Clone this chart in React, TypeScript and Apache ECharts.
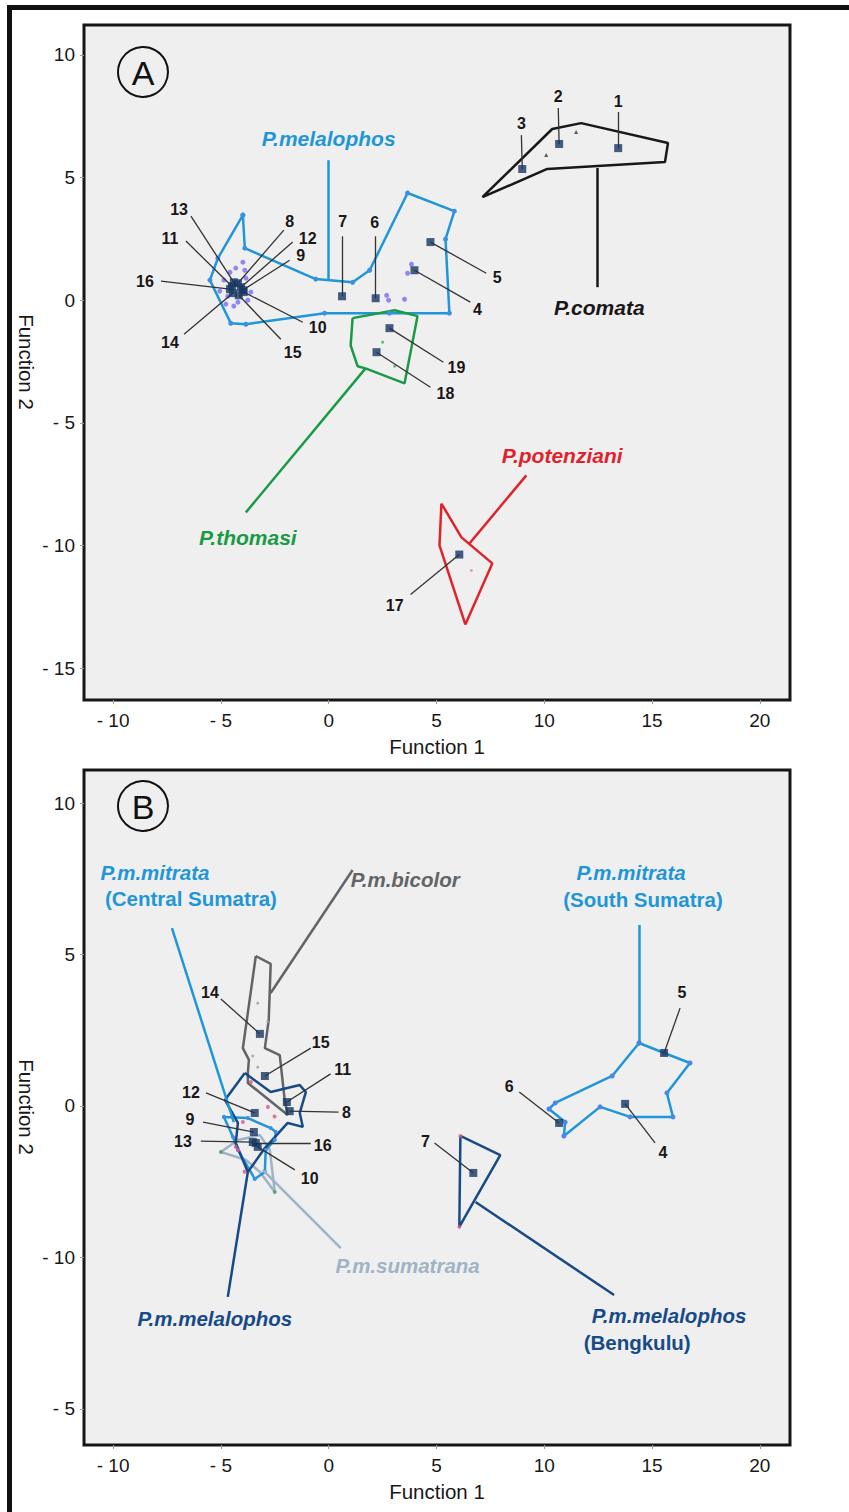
import React, { useEffect, useRef } from "react";
import * as echarts from "echarts";

const FONT = "'Liberation Sans', Arial, Helvetica, sans-serif";
const TICK_FONT = "'Liberation Sans Narrow', 'Liberation Sans', Arial, sans-serif";

// ---------- Panel A ----------
const A_X_RANGE = [-11.35, 21.4];
const A_Y_RANGE = [-16.3, 11.22];

const A_MELALOPHOS_POLY = [[-3.98, 3.47], [-3.89, 2.12], [-0.6, 0.86], [1.11, 0.73], [1.9, 1.22], [3.66, 4.37], [5.83, 3.63], [5.42, 2.49], [5.6, -0.53], [2.82, -0.53], [-0.19, -0.53], [-3.84, -0.98], [-4.54, -0.94], [-5.51, 0.82], [-5.14, 1.71]];
const A_COMATA_POLY = [[7.13, 4.2], [10.37, 6.98], [11.71, 7.22], [15.74, 6.41], [15.6, 5.63], [10.14, 5.35]];
const A_THOMASI_POLY = [[1.11, -0.73], [3.06, -0.41], [4.12, -0.65], [3.52, -3.39], [1.71, -2.78], [1.34, -2.69], [1.02, -1.84]];
const A_POTENZIANI_POLY = [[5.23, -8.29], [6.16, -9.67], [7.59, -10.73], [6.34, -13.22], [5.14, -10.0]];

const A_IDS = ["1", "2", "3", "4", "5", "6", "7", "8", "9", "10", "11", "12", "13", "14", "15", "16", "17", "18", "19"];
const A_CENTROID_X = [13.43, 10.69, 8.98, 3.98, 4.72, 2.18, 0.62, -4.21, -3.98, -3.94, -4.49, -4.07, -4.4, -4.44, -4.17, -4.58, 6.06, 2.22, 2.82];
const A_CENTROID_Y = [6.2, 6.37, 5.35, 1.22, 2.37, 0.08, 0.16, 0.69, 0.41, 0.33, 0.57, 0.53, 0.73, 0.29, 0.2, 0.45, -10.37, -2.12, -1.14];
const A_LABEL_X = [13.43, 10.65, 8.94, 6.9, 7.82, 2.13, 0.65, -1.81, -1.3, -0.51, -7.36, -0.97, -6.94, -7.36, -1.67, -8.52, 3.06, 5.42, 5.93];
const A_LABEL_Y = [8.12, 8.29, 7.22, -0.37, 0.94, 3.18, 3.22, 3.22, 1.84, -1.1, 2.53, 2.53, 3.71, -1.71, -2.12, 0.78, -12.45, -3.8, -2.73];
const A_LEADER_X = [13.43, 10.65, 8.94, 6.57, 7.31, 2.18, 0.62, -2.08, -1.81, -1.2, -6.62, -1.67, -6.39, -6.71, -2.22, -7.78, 3.8, 4.72, 5.32];
const A_LEADER_Y = [7.67, 7.84, 6.73, -0.08, 1.1, 2.61, 2.61, 2.86, 1.63, -0.9, 2.41, 2.37, 3.43, -1.39, -1.59, 0.78, -12.0, -3.55, -2.53];

const A_PURPLE_DOTS = [[-4.58, 1.14], [-3.89, 1.22], [-3.75, 0.0], [-4.77, -0.16], [-4.21, -0.08], [-3.98, 1.55], [-5.05, 0.37], [-3.61, 0.33], [-4.86, 0.82], [-3.84, 0.9], [-4.4, -0.24], [-4.31, 1.31], [-4.68, 0.16], [2.69, 0.2], [2.78, 0.0], [3.52, 0.04], [3.84, 1.47], [3.66, 1.1]];
const A_GREEN_DOTS = [[2.5, -1.71], [3.06, -2.69]];
const A_PINK_DOTS = [[6.62, -11.02]];
const A_BLACK_TRIANGLES = [[11.48, 6.86], [10.09, 5.92]];

const A_SPECIES_TEXT = ["P.melalophos", "P.comata", "P.thomasi", "P.potenziani"];
const A_SPECIES_POS = [[0, 6.61], [12.55, -0.29], [-3.75, -9.67], [10.83, -6.33]];
const A_SPECIES_LEADERS = [[[0, 5.71], [0, 0.86]], [[12.45, 5.39], [12.45, 0.53]], [[1.71, -2.78], [-3.84, -8.65]], [[6.53, -9.92], [9.17, -7.14]]];

// ---------- Panel B ----------
const B_X_RANGE = [-11.35, 21.4];
const B_Y_RANGE = [-11.19, 11.09];
const B_Y_TICK_VALUES = [10, 5, 0, -5, -10];
const B_Y_TICK_LABELS = ["10", "5", "0", "- 10", "- 5"];

const B_BICOLOR_POLY = [[-3.38, 4.95], [-2.69, 4.69], [-2.78, 2.84], [-2.96, 1.91], [-2.27, 1.68], [-2.04, 0.2], [-1.9, -0.3], [-3.75, 0.76], [-3.75, 1.09], [-3.7, 1.52], [-3.98, 1.91]];
const B_MELALOPHOS_POLY = [[-3.89, 1.09], [-2.69, 0.46], [-1.34, 0.69], [-1.06, 0.46], [-1.34, -0.23], [-1.2, -0.69], [-1.9, -0.56], [-2.96, -1.39], [-3.75, -2.18], [-4.31, -1.22], [-4.21, -0.56], [-4.81, 0.2]];
const B_MITRATA_C_POLY = [[-4.86, -0.36], [-3.75, -0.4], [-2.69, -0.73], [-2.45, -0.86], [-2.5, -1.12], [-2.92, -1.45], [-2.96, -2.18], [-3.43, -2.41], [-4.21, -1.45], [-4.44, -1.02]];
const B_SUMATRANA_POLY = [[-5.0, -1.52], [-4.21, -1.12], [-3.19, -0.96], [-2.73, -1.45], [-2.5, -2.84], [-3.19, -2.18], [-3.84, -1.78]];
const B_MITRATA_S_POLY = [[14.4, 2.08], [15.56, 1.75], [16.76, 1.42], [15.69, 0.43], [15.97, -0.36], [13.98, -0.36], [12.59, -0.03], [10.91, -0.99], [10.97, -0.53], [10.22, -0.1], [10.51, 0.1], [13.15, 0.99]];
const B_BENGKULU_POLY = [[6.11, -0.99], [7.96, -1.62], [6.06, -3.99]];

const B_IDS = ["4", "5", "6", "7", "8", "9", "10", "11", "12", "13", "14", "15", "16"];
const B_CENTROID_X = [13.75, 15.56, 10.69, 6.71, -1.81, -3.47, -3.29, -1.94, -3.43, -3.52, -3.19, -2.96, -3.38];
const B_CENTROID_Y = [0.07, 1.75, -0.56, -2.21, -0.17, -0.86, -1.35, 0.13, -0.23, -1.19, 2.38, 0.99, -1.22];
const B_LABEL_X = [15.51, 16.39, 8.38, 4.49, 0.83, -6.44, -0.88, 0.65, -6.39, -6.76, -5.51, -0.37, -0.28];
const B_LABEL_Y = [-1.52, 3.73, 0.63, -1.16, -0.2, -0.46, -2.41, 1.19, 0.46, -1.16, 3.73, 2.08, -1.29];
const B_LEADER_X = [15.14, 16.3, 8.84, 4.91, 0.46, -5.83, -1.57, 0.09, -5.69, -5.93, -5.0, -0.83, -0.83];
const B_LEADER_Y = [-1.22, 3.23, 0.46, -1.22, -0.2, -0.53, -2.11, 1.06, 0.43, -1.16, 3.53, 1.91, -1.22];

const B_PINK_DOTS = [[6.11, -0.99], [6.06, -3.99], [-3.61, 0.79], [-2.82, -0.03], [-3.98, -0.53], [-2.51, -0.35], [-4.21, -1.45], [-3.9, -2.17], [-4.31, -1.35]];
const B_GREEN_DOTS = [[-5.0, -1.52], [-2.5, -2.84]];
const B_GRAY_DOTS = [[-3.29, 3.39], [-2.82, 2.78], [-3.52, 1.65], [-3.29, 1.28]];

const B_SPECIES_TEXT = ["P.m.bicolor", "P.m.mitrata", "(Central Sumatra)", "P.m.mitrata", "(South Sumatra)", "P.m.sumatrana", "P.m.melalophos", "P.m.melalophos", "(Bengkulu)"];
const B_SPECIES_POS = [[3.55, 7.49], [-8.06, 7.72], [-6.39, 6.86], [14.03, 7.7], [14.58, 6.8], [3.66, -5.28], [-5.28, -7.03], [15.79, -6.93], [14.31, -7.8]];
const B_SPECIES_ITALIC = [true, true, false, true, false, true, true, true, false];
const B_SPECIES_LEADERS = [[[-2.69, 3.73], [1.11, 7.79]], [[-7.27, 5.87], [-4.4, -0.53]], [[14.4, 2.08], [14.4, 5.97]], [[-3.06, -2.11], [0.56, -4.69]], [[-3.75, -2.18], [-4.68, -6.3]], [[6.81, -3.17], [13.24, -6.24]]];

// ---------- Colours ----------
const C_LBLUE = "#1f96d8";
const C_BLACK = "#1a1718";
const C_GREEN = "#1a9a46";
const C_RED = "#e0232a";
const C_NAVY = "#174a86";
const C_GRAY = "#626466";
const C_PALE = "#9fb3c7";
const C_SQUARE = "#183760";
const A_SPECIES_COLOR = [C_LBLUE, C_BLACK, C_GREEN, C_RED];
const B_SPECIES_COLOR = [C_GRAY, C_LBLUE, C_LBLUE, C_LBLUE, C_LBLUE, C_PALE, C_NAVY, C_NAVY, C_NAVY];
const B_LEADER_COLOR = [C_GRAY, C_LBLUE, C_LBLUE, C_PALE, C_NAVY, C_NAVY];

const signed = (v: number) => (v < 0 ? "- " + Math.abs(v) : String(v));

function poly(pts: number[][], color: string, gi: number, dot?: string, dotSize = 5, width = 2.5) {
  return {
    type: "line",
    xAxisIndex: gi,
    yAxisIndex: gi,
    data: [...pts, pts[0]],
    lineStyle: { color, width },
    symbol: dot ? "circle" : "none",
    showSymbol: !!dot,
    symbolSize: dotSize,
    itemStyle: { color: dot || color },
    silent: true,
    z: 3,
  };
}

function dots(pts: number[][], color: string, gi: number, size = 5, symbol = "circle") {
  return {
    type: "scatter",
    xAxisIndex: gi,
    yAxisIndex: gi,
    data: pts,
    symbol,
    symbolSize: size,
    itemStyle: { color },
    silent: true,
    z: 4,
  };
}

function leaders(lines: number[][][], colors: string[] | string, width: number, gi: number) {
  return {
    type: "lines",
    coordinateSystem: "cartesian2d",
    xAxisIndex: gi,
    yAxisIndex: gi,
    data: lines.map((c, i) => ({
      coords: c,
      lineStyle: { color: Array.isArray(colors) ? colors[i] : colors, width },
    })),
    lineStyle: { width, opacity: 1 },
    silent: true,
    z: 5,
  };
}

function texts(items: { pos: number[]; text: string; color: string; italic?: boolean; size: number }[], gi: number) {
  return {
    type: "scatter",
    xAxisIndex: gi,
    yAxisIndex: gi,
    symbol: "circle",
    symbolSize: 1,
    itemStyle: { color: "rgba(0,0,0,0)" },
    silent: true,
    z: 8,
    data: items.map((it) => ({
      value: it.pos,
      name: it.text,
      label: {
        show: true,
        position: "inside",
        formatter: it.text,
        color: it.color,
        opacity: 1,
        textBorderWidth: 0,
        lineHeight: Math.round(it.size * 1.05),
        fontStyle: it.italic ? "italic" : "normal",
        fontWeight: "bold",
        fontSize: it.size,
        fontFamily: FONT,
      },
    })),
  };
}

function axisX(gi: number, range: number[]) {
  return {
    gridIndex: gi,
    type: "value",
    min: range[0],
    max: range[1],
    splitNumber: 7,
    minInterval: 5,
    maxInterval: 5,
    axisLine: { show: false, onZero: false },
    axisTick: { show: true, length: 4, lineStyle: { color: "#9a9a9a", width: 1 } },
    splitLine: { show: false },
    axisLabel: {
      showMinLabel: false,
      showMaxLabel: false,
      formatter: (v: number) => signed(v),
      fontSize: 19,
      color: C_BLACK,
      fontFamily: TICK_FONT,
      margin: 11,
    },
    name: "Function 1",
    nameLocation: "middle",
    nameGap: 36,
    nameTextStyle: { fontSize: 20.5, color: C_BLACK, fontFamily: TICK_FONT },
  };
}

function axisY(gi: number, range: number[], fmt: (v: number) => string) {
  return {
    gridIndex: gi,
    type: "value",
    min: range[0],
    max: range[1],
    splitNumber: 5,
    minInterval: 5,
    maxInterval: 5,
    axisLine: { show: false, onZero: false },
    axisTick: { show: true, length: 4, lineStyle: { color: "#9a9a9a", width: 1 } },
    splitLine: { show: false },
    axisLabel: {
      showMinLabel: false,
      showMaxLabel: false,
      formatter: fmt,
      fontSize: 19,
      color: C_BLACK,
      fontFamily: TICK_FONT,
      margin: 9,
    },
  };
}

export default function App() {
  const ref = useRef<HTMLDivElement>(null);
  useEffect(() => {
    if (!ref.current) return;
    const chart = echarts.init(ref.current, null, { renderer: "svg" });

    const aNumLeaders = A_IDS.map((_, i) => [[A_LEADER_X[i], A_LEADER_Y[i]], [A_CENTROID_X[i], A_CENTROID_Y[i]]]);
    const bNumLeaders = B_IDS.map((_, i) => [[B_LEADER_X[i], B_LEADER_Y[i]], [B_CENTROID_X[i], B_CENTROID_Y[i]]]);

    const aNumTexts = A_IDS.map((id, i) => ({ pos: [A_LABEL_X[i], A_LABEL_Y[i]], text: id, color: C_BLACK, size: 16 }));
    const bNumTexts = B_IDS.map((id, i) => ({ pos: [B_LABEL_X[i], B_LABEL_Y[i]], text: id, color: C_BLACK, size: 16 }));
    const aSpecies = A_SPECIES_TEXT.map((t, i) => ({ pos: A_SPECIES_POS[i], text: t, color: A_SPECIES_COLOR[i], italic: true, size: 21 }));
    const bSpecies = B_SPECIES_TEXT.map((t, i) => ({ pos: B_SPECIES_POS[i], text: t, color: B_SPECIES_COLOR[i], italic: B_SPECIES_ITALIC[i], size: 20.5 }));

    const bFmt = (v: number) => {
      const k = B_Y_TICK_VALUES.indexOf(Math.round(v));
      return k >= 0 ? B_Y_TICK_LABELS[k] : "";
    };

    const option: any = {
      animation: false,
      backgroundColor: "#ffffff",
      grid: [
        { left: 84, top: 25, width: 706, height: 675, show: true, backgroundColor: "#efefef", borderColor: "#161616", borderWidth: 3 },
        { left: 84, top: 770, width: 706, height: 675, show: true, backgroundColor: "#efefef", borderColor: "#161616", borderWidth: 3 },
      ],
      xAxis: [axisX(0, A_X_RANGE), axisX(1, B_X_RANGE)],
      yAxis: [axisY(0, A_Y_RANGE, signed), axisY(1, B_Y_RANGE, bFmt)],
      graphic: [
        { type: "polyline", shape: { points: [[9.5, 1530], [9.5, 7.5], [870, 7.5]] }, style: { fill: "none", stroke: "#111", lineWidth: 5 } },
        { type: "circle", shape: { cx: 143, cy: 72, r: 25 }, style: { fill: "none", stroke: "#111", lineWidth: 2 } },
        { type: "text", x: 143, y: 73, style: { text: "A", font: "34px " + FONT, fill: "#111", align: "center", verticalAlign: "middle", textAlign: "center", textVerticalAlign: "middle" } },
        { type: "circle", shape: { cx: 143, cy: 806, r: 25 }, style: { fill: "none", stroke: "#111", lineWidth: 2 } },
        { type: "text", x: 143, y: 807, style: { text: "B", font: "34px " + FONT, fill: "#111", align: "center", verticalAlign: "middle", textAlign: "center", textVerticalAlign: "middle" } },
        { type: "text", x: 26, y: 362, rotation: -Math.PI / 2, style: { text: "Function 2", font: "20.5px " + TICK_FONT, fill: C_BLACK, align: "center", verticalAlign: "middle", textAlign: "center", textVerticalAlign: "middle" } },
        { type: "text", x: 26, y: 1107, rotation: -Math.PI / 2, style: { text: "Function 2", font: "20.5px " + TICK_FONT, fill: C_BLACK, align: "center", verticalAlign: "middle", textAlign: "center", textVerticalAlign: "middle" } },
      ],
      series: [
        // Panel A
        poly(A_MELALOPHOS_POLY, C_LBLUE, 0, "#3d8fe6", 5),
        poly(A_COMATA_POLY, C_BLACK, 0),
        poly(A_THOMASI_POLY, C_GREEN, 0),
        poly(A_POTENZIANI_POLY, C_RED, 0),
        dots(A_PURPLE_DOTS, "#7a6cf2", 0, 5),
        dots(A_GREEN_DOTS, "#3fae5a", 0, 3),
        dots(A_PINK_DOTS, "#e58aa8", 0, 3),
        dots(A_BLACK_TRIANGLES, "#333", 0, 4, "triangle"),
        leaders(A_SPECIES_LEADERS, A_SPECIES_COLOR, 2.5, 0),
        leaders(aNumLeaders, "#333333", 1.3, 0),
        {
          type: "scatter",
          xAxisIndex: 0,
          yAxisIndex: 0,
          data: A_IDS.map((id, i) => ({ value: [A_CENTROID_X[i], A_CENTROID_Y[i]], name: id })),
          symbol: "rect",
          symbolSize: 8,
          itemStyle: { color: C_SQUARE },
          silent: true,
          z: 6,
        },
        texts(aNumTexts, 0),
        texts(aSpecies, 0),
        // Panel B
        poly(B_BICOLOR_POLY, C_GRAY, 1),
        poly(B_SUMATRANA_POLY, C_PALE, 1),
        poly(B_MITRATA_C_POLY, C_LBLUE, 1, "#3d8fe6", 4),
        poly(B_MELALOPHOS_POLY, C_NAVY, 1),
        poly(B_MITRATA_S_POLY, C_LBLUE, 1, "#4a86ee", 5),
        poly(B_BENGKULU_POLY, C_NAVY, 1),
        dots(B_PINK_DOTS, "#d9558a", 1, 4),
        dots(B_GREEN_DOTS, "#4c9a62", 1, 4),
        dots(B_GRAY_DOTS, "#9a9a9a", 1, 3),
        leaders(B_SPECIES_LEADERS, B_LEADER_COLOR, 2.5, 1),
        leaders(bNumLeaders, "#333333", 1.3, 1),
        {
          type: "scatter",
          xAxisIndex: 1,
          yAxisIndex: 1,
          data: B_IDS.map((id, i) => ({ value: [B_CENTROID_X[i], B_CENTROID_Y[i]], name: id })),
          symbol: "rect",
          symbolSize: 8,
          itemStyle: { color: C_SQUARE },
          silent: true,
          z: 6,
        },
        texts(bNumTexts, 1),
        texts(bSpecies, 1),
      ],
    };
    chart.setOption(option);
    return () => chart.dispose();
  }, []);
  return <div ref={ref} style={{ position: "absolute", left: 0, top: 0, width: 849, height: 1512 }} />;
}
